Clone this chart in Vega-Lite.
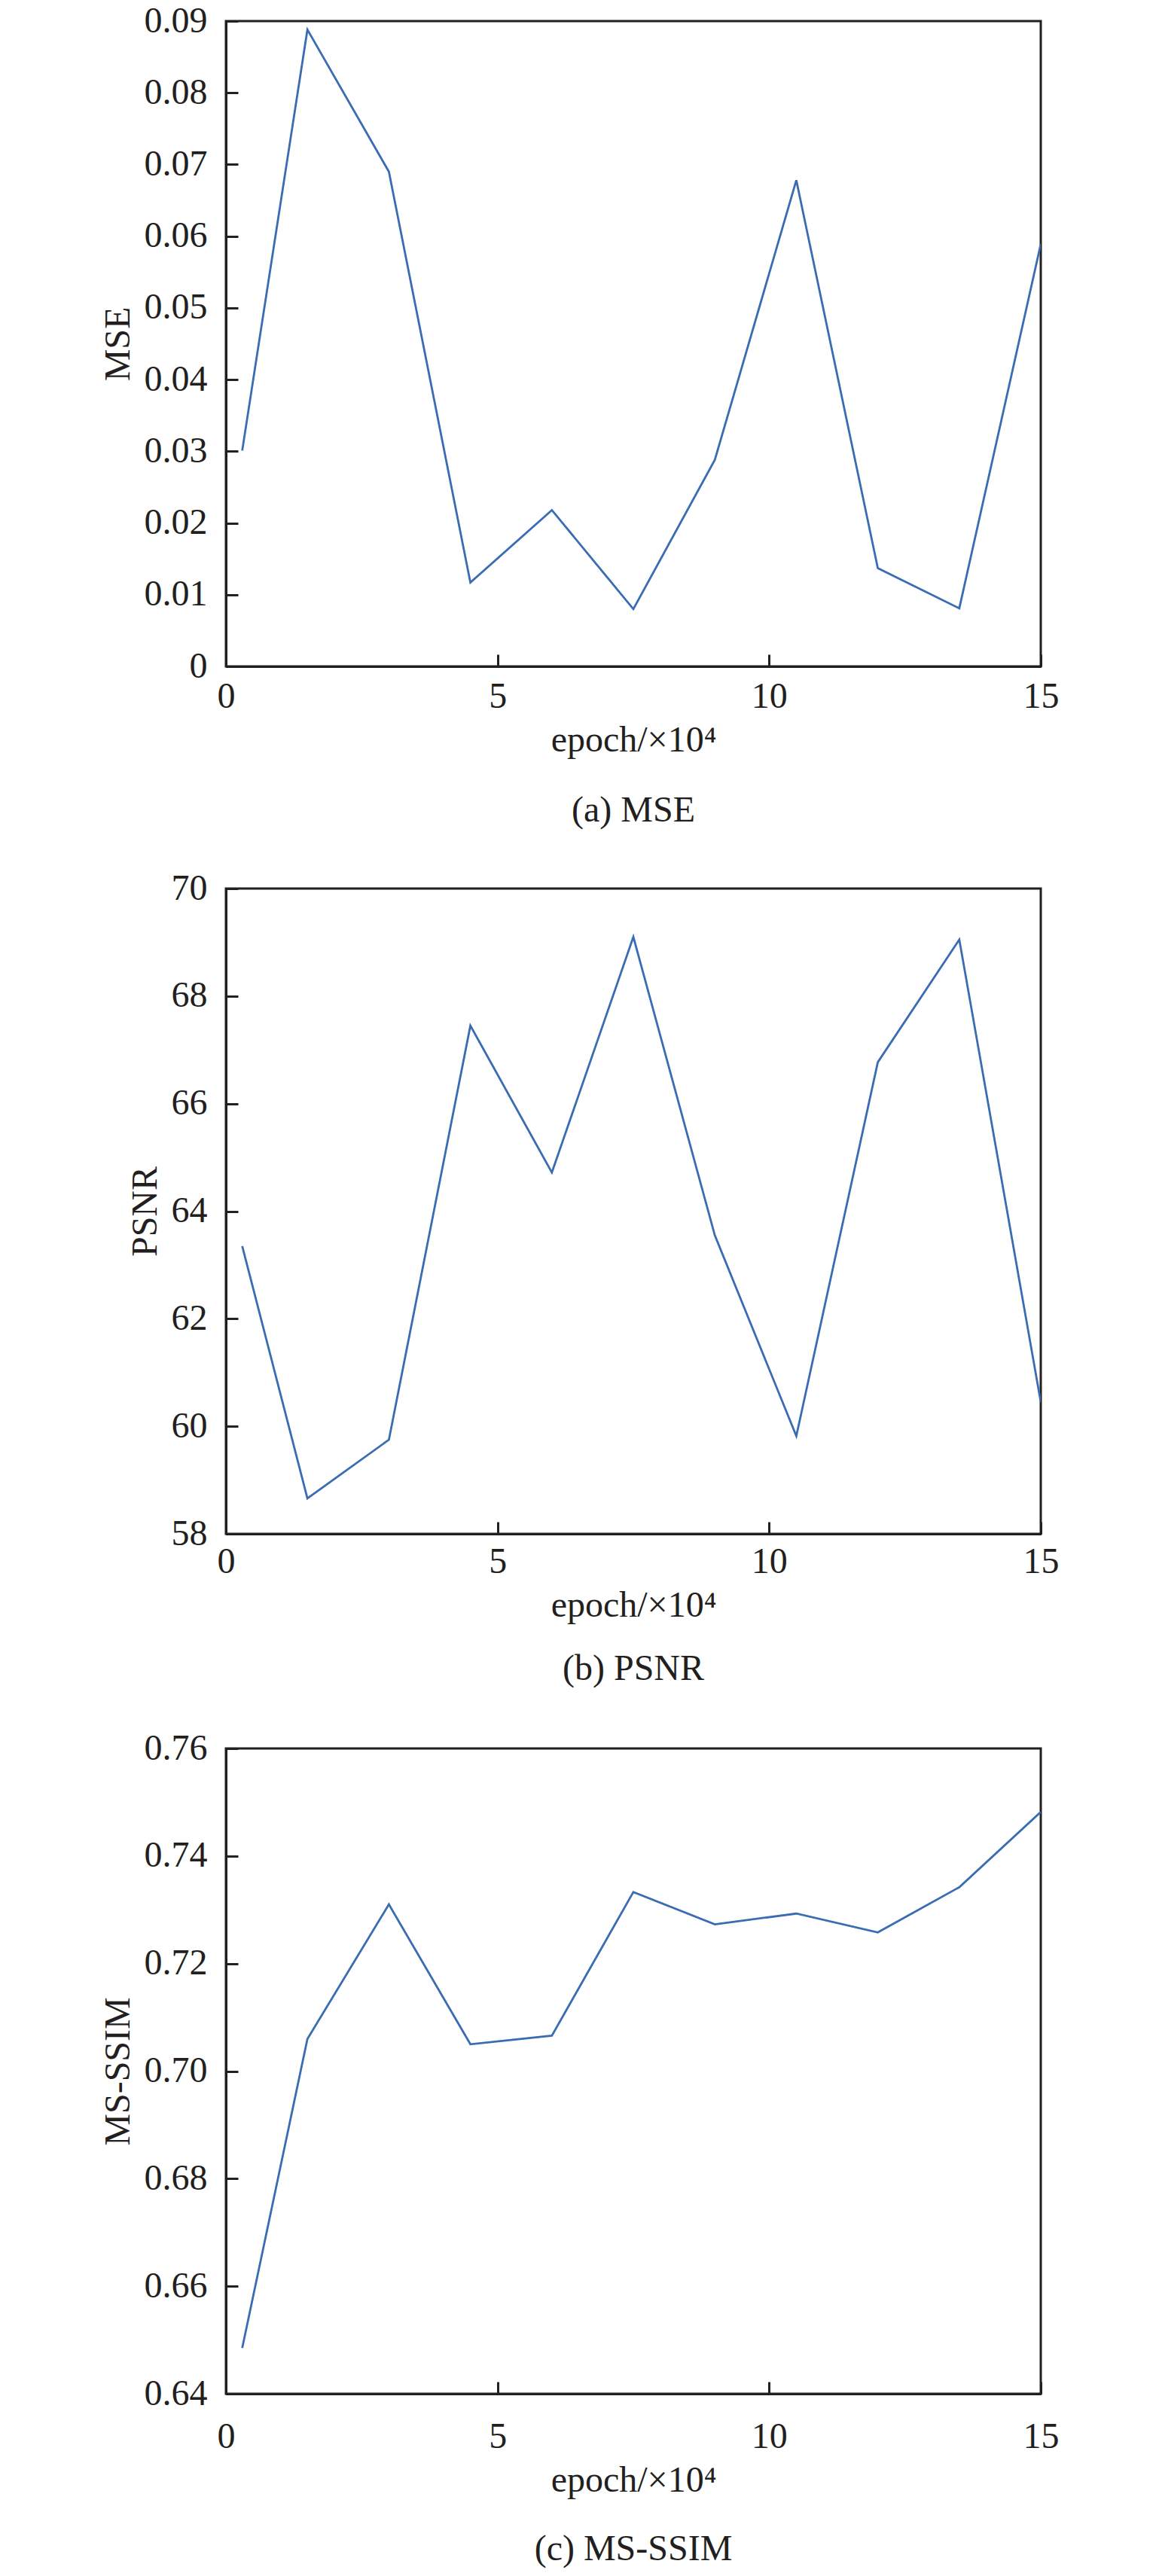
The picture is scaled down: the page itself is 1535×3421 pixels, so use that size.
{
  "$schema": "https://vega.github.io/schema/vega-lite/v6.json",
  "padding": {"left": 131, "top": 2, "right": 5, "bottom": 5},
  "background": "white",
  "datasets": {
    "mse": [
      {"epoch": 0.3, "value": 0.0301},
      {"epoch": 1.5, "value": 0.0888},
      {"epoch": 3, "value": 0.0690},
      {"epoch": 4.5, "value": 0.0117},
      {"epoch": 6, "value": 0.0218},
      {"epoch": 7.5, "value": 0.0080},
      {"epoch": 9, "value": 0.0288},
      {"epoch": 10.5, "value": 0.0678},
      {"epoch": 12, "value": 0.0137},
      {"epoch": 13.5, "value": 0.0081},
      {"epoch": 15, "value": 0.0589}
    ],
    "psnr": [
      {"epoch": 0.3, "value": 63.35},
      {"epoch": 1.5, "value": 58.66},
      {"epoch": 3, "value": 59.75},
      {"epoch": 4.5, "value": 67.45},
      {"epoch": 6, "value": 64.72},
      {"epoch": 7.5, "value": 69.1},
      {"epoch": 9, "value": 63.55},
      {"epoch": 10.5, "value": 59.82},
      {"epoch": 12, "value": 66.77},
      {"epoch": 13.5, "value": 69.05},
      {"epoch": 15, "value": 60.45}
    ],
    "msssim": [
      {"epoch": 0.3, "value": 0.6485},
      {"epoch": 1.5, "value": 0.7060},
      {"epoch": 3, "value": 0.7310},
      {"epoch": 4.5, "value": 0.7050},
      {"epoch": 6, "value": 0.7066},
      {"epoch": 7.5, "value": 0.7333},
      {"epoch": 9, "value": 0.7273},
      {"epoch": 10.5, "value": 0.7293},
      {"epoch": 12, "value": 0.7258},
      {"epoch": 13.5, "value": 0.7342},
      {"epoch": 15, "value": 0.7482}
    ]
  },
  "config": {
    "font": "Liberation Serif",
    "view": {"stroke": "#231f20", "strokeWidth": 3},
    "axis": {
      "labelFont": "Liberation Serif",
      "titleFont": "Liberation Serif",
      "labelFontSize": 48,
      "titleFontSize": 48,
      "titleFontWeight": "normal",
      "labelColor": "#231f20",
      "titleColor": "#231f20",
      "domainColor": "#231f20",
      "domainWidth": 3,
      "tickColor": "#231f20",
      "tickWidth": 3,
      "tickSize": -16,
      "grid": false,
      "labelOverlap": false,
      "labelFlush": false
    },
    "axisY": {"labelPadding": 41, "titlePadding": 10},
    "axisX": {"titlePadding": 10},
    "title": {
      "font": "Liberation Serif",
      "fontSize": 48,
      "fontWeight": "normal",
      "color": "#231f20",
      "orient": "bottom",
      "anchor": "middle",
      "frame": "group"
    },
    "line": {"color": "#3a6cb4", "strokeWidth": 2.8}
  },
  "vconcat": [
    {
      "spacing": 51,
      "vconcat": [
        {
          "width": 1082,
          "height": 857,
          "title": {"text": "(a) MSE", "offset": 46},
          "data": {"name": "mse"},
          "mark": {"type": "line", "clip": true},
          "encoding": {
            "x": {"field": "epoch", "type": "quantitative", "scale": {"domain": [0, 15], "nice": false},
                  "axis": {"values": [0, 5, 10, 15], "title": "epoch/×10⁴", "labelPadding": 32}},
            "y": {"field": "value", "type": "quantitative", "scale": {"domain": [0, 0.09], "nice": false, "zero": false},
                  "axis": {"values": [0, 0.01, 0.02, 0.03, 0.04, 0.05, 0.06, 0.07, 0.08, 0.09], "format": ".2~f", "title": "MSE"}}
          }
        },
        {
          "width": 1082,
          "height": 857,
          "title": {"text": "(b) PSNR", "offset": 37},
          "data": {"name": "psnr"},
          "mark": {"type": "line", "clip": true},
          "encoding": {
            "x": {"field": "epoch", "type": "quantitative", "scale": {"domain": [0, 15], "nice": false},
                  "axis": {"values": [0, 5, 10, 15], "title": "epoch/×10⁴", "labelPadding": 29}},
            "y": {"field": "value", "type": "quantitative", "scale": {"domain": [58, 70], "nice": false, "zero": false},
                  "axis": {"values": [58, 60, 62, 64, 66, 68, 70], "title": "PSNR"}}
          }
        }
      ]
    },
    {
      "width": 1082,
      "height": 857,
      "title": {"text": "(c) MS-SSIM", "offset": 44},
      "data": {"name": "msssim"},
      "mark": {"type": "line", "clip": true},
      "encoding": {
        "x": {"field": "epoch", "type": "quantitative", "scale": {"domain": [0, 15], "nice": false},
              "axis": {"values": [0, 5, 10, 15], "title": "epoch/×10⁴", "labelPadding": 49}},
        "y": {"field": "value", "type": "quantitative", "scale": {"domain": [0.64, 0.76], "nice": false, "zero": false},
              "axis": {"values": [0.64, 0.66, 0.68, 0.7, 0.72, 0.74, 0.76], "format": ".2f", "title": "MS-SSIM"}}
      }
    }
  ],
  "spacing": 53
}
